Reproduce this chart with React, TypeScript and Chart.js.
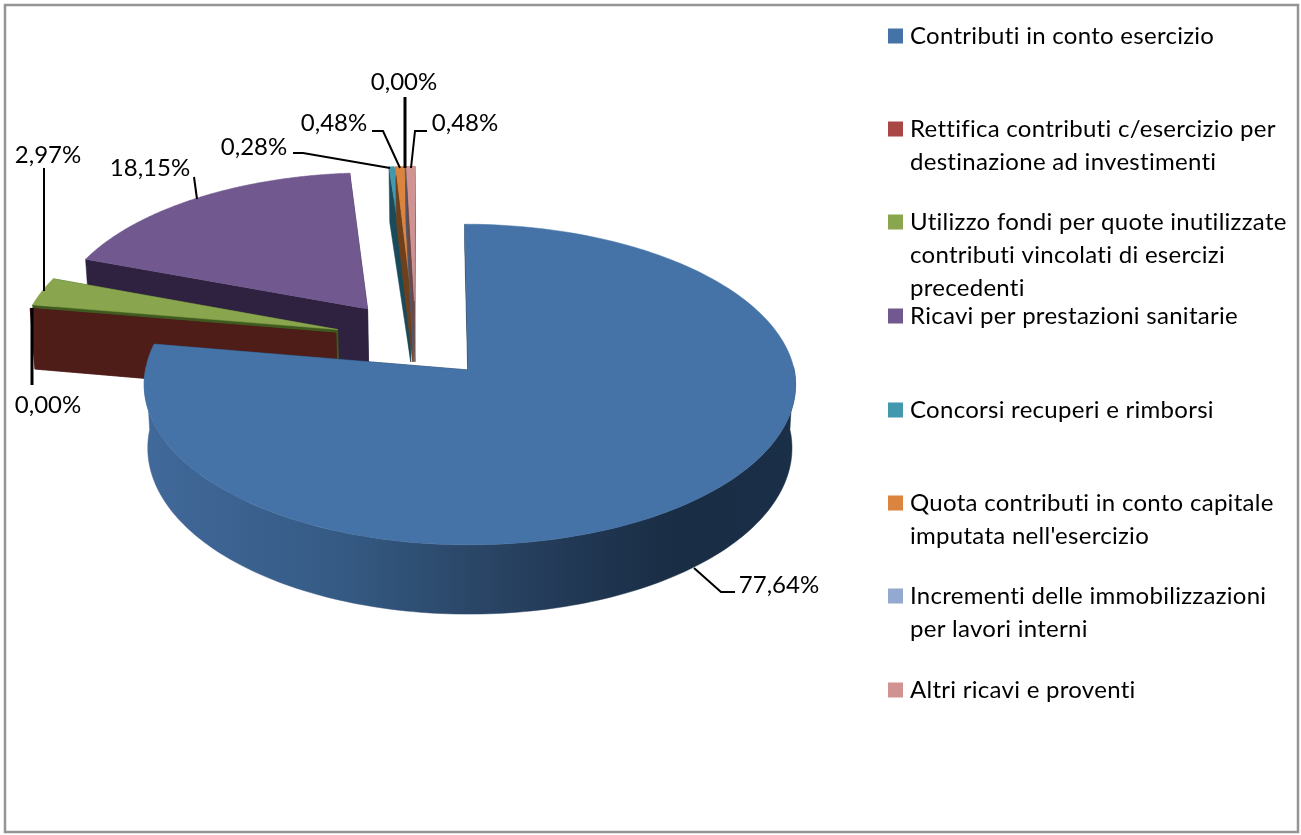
import React, { useEffect, useRef } from "react";
import { Chart, registerables } from "chart.js";

Chart.register(...registerables);

const categories = [
  "Contributi in conto esercizio",
  "Rettifica contributi c/esercizio per destinazione ad investimenti",
  "Utilizzo fondi per quote inutilizzate contributi vincolati di esercizi precedenti",
  "Ricavi per prestazioni sanitarie",
  "Concorsi recuperi e rimborsi",
  "Quota contributi in conto capitale imputata nell'esercizio",
  "Incrementi delle immobilizzazioni per lavori interni",
  "Altri ricavi e proventi",
];
const values = [77.64, 0, 2.97, 18.15, 0.28, 0.48, 0, 0.48];
const colors = ["#4572A7", "#AA4643", "#89A54E", "#71588F", "#4198AF", "#DB843D", "#93A9CF", "#D19392"];
const wallColors = ["#1b3350", "#4e1d18", "#3f5a1e", "#2f2140", "#1a4b5a", "#70401c", "#4d5a75", "#6a4846"];
const drawOrder = [4, 5, 6, 7, 3, 2, 1, 0];

const legendLines = [
  ["Contributi in conto esercizio"],
  ["Rettifica contributi c/esercizio per", "destinazione ad investimenti"],
  ["Utilizzo fondi per quote inutilizzate", "contributi vincolati di esercizi", "precedenti"],
  ["Ricavi per prestazioni sanitarie"],
  ["Concorsi recuperi e rimborsi"],
  ["Quota contributi in conto capitale", "imputata nell'esercizio"],
  ["Incrementi delle immobilizzazioni", "per lavori interni"],
  ["Altri ricavi e proventi"],
];
const legendRowY = [36, 129, 222, 316, 410, 503, 596, 690];
const legendLineStep = 33;

// Label placement: [label centre x, centre y], leader polyline
const labelPlacement: { at: [number, number]; line: [number, number][]; width: number }[] = [
  { at: [779, 585], line: [[694, 568], [721, 592], [735, 592]], width: 2 },
  { at: [48, 405], line: [[32, 308], [32, 385]], width: 3 },
  { at: [48, 155], line: [[44, 168], [44, 291]], width: 2 },
  { at: [150, 168], line: [[194, 177], [197, 199]], width: 2 },
  { at: [254, 147], line: [[293, 153], [303, 153], [390, 168]], width: 2 },
  { at: [334, 123], line: [[372, 131], [383, 131], [400, 168]], width: 2 },
  { at: [404, 82], line: [[405, 97], [405, 168]], width: 3 },
  { at: [465, 123], line: [[411, 168], [415, 131], [427, 131]], width: 2 },
];

const FONT = '24px Lato, "Open Sans", sans-serif';
const EXPLODE = 0.255;
const CORE_X = -0.164;
const CORE_Y = -0.195;
const PIE = { cx: 468, cy: 370, rx: 326, ry: 159, k: 0.0909, depth: 63, leftScale: 0.99, shear: 3.5, taper: 0.011 };
const blueWallStops: [number, string][] = [
  [0, "#41699a"],
  [0.3, "#355b85"],
  [0.5, "#2b4768"],
  [0.7, "#1f3550"],
  [0.82, "#192d44"],
  [1, "#1a2f48"],
];

function project(u: number, v: number, z: number): [number, number] {
  const s = 1 / (1 - PIE.k * v);
  const uu = u < 0 ? u * PIE.leftScale : u;
  const off = PIE.rx * uu * s * (1 - PIE.taper * z) + (v < 0 ? PIE.shear * v : 0);
  return [PIE.cx + off, PIE.cy + (PIE.ry * v + PIE.depth * z) * s];
}

function polygon(ctx: CanvasRenderingContext2D, pts: [number, number][], fill: string | CanvasGradient) {
  ctx.beginPath();
  pts.forEach((p, i) => (i ? ctx.lineTo(p[0], p[1]) : ctx.moveTo(p[0], p[1])));
  ctx.closePath();
  ctx.fillStyle = fill;
  ctx.fill();
  ctx.strokeStyle = fill;
  ctx.lineWidth = 0.5;
  ctx.stroke();
}

const pie3d = {
  id: "pie3d",
  beforeDatasetsDraw(chart: any) {
    const ctx: CanvasRenderingContext2D = chart.ctx;
    ctx.save();
    ctx.fillStyle = "#ffffff";
    ctx.fillRect(0, 0, chart.width, chart.height);
    ctx.strokeStyle = "#949494";
    ctx.lineWidth = 2.5;
    ctx.strokeRect(5, 5, 1293, 827);

    const arcs = chart.getDatasetMeta(0).data;
    for (const i of drawOrder) {
      const el = arcs[i];
      const a0 = el.startAngle;
      const a1 = el.endAngle;
      const mid = (a0 + a1) / 2;
      const ox = CORE_X + EXPLODE * Math.cos(mid);
      const oy = CORE_Y + EXPLODE * Math.sin(mid);
      const on = (a: number, z: number) => project(ox + Math.cos(a), oy + Math.sin(a), z);
      const apex = (z: number) => project(ox, oy, z);

      // radial faces; the face on the 12 o'clock edge of the first slice barely shows
      const z0 = i === 0 ? 0.4 : 1;
      polygon(ctx, [apex(0), on(a0, 0), on(a0, z0), apex(z0)], wallColors[i]);
      polygon(ctx, [apex(0), on(a1, 0), on(a1, 1), apex(1)], wallColors[i]);

      // outer wall, only where it faces the viewer
      const lo = Math.max(a0, -0.02);
      const hi = Math.min(a1, Math.PI + 0.02);
      if (hi > lo) {
        const top: [number, number][] = [];
        const bottom: [number, number][] = [];
        for (let t = 0; t <= 160; t++) {
          const a = lo + ((hi - lo) * t) / 160;
          top.push(on(a, 0));
          bottom.unshift(on(a, 1));
        }
        let fill: string | CanvasGradient = wallColors[i];
        if (i === 0) {
          const g = ctx.createLinearGradient(140, 0, 797, 0);
          blueWallStops.forEach(([o, c]) => g.addColorStop(o, c));
          fill = g;
        }
        polygon(ctx, top.concat(bottom), fill);
      }

      // top surface
      const pts: [number, number][] = [apex(0)];
      for (let t = 0; t <= 200; t++) pts.push(on(a0 + ((a1 - a0) * t) / 200, 0));
      if (a1 > a0) polygon(ctx, pts, colors[i]);
    }
    ctx.restore();
    return false;
  },
  afterDraw(chart: any) {
    const ctx: CanvasRenderingContext2D = chart.ctx;
    ctx.save();
    ctx.font = FONT;
    ctx.textBaseline = "middle";
    (ctx as any).letterSpacing = "0.01px";

    // data labels + leaders
    values.forEach((v, i) => {
      const p = labelPlacement[i];
      ctx.strokeStyle = "#000000";
      ctx.lineWidth = p.width;
      ctx.beginPath();
      p.line.forEach((q, j) => (j ? ctx.lineTo(q[0], q[1]) : ctx.moveTo(q[0], q[1])));
      ctx.stroke();
      ctx.fillStyle = "#000000";
      ctx.textAlign = "center";
      ctx.fillText(v.toFixed(2).replace(".", ",") + "%", p.at[0], p.at[1]);
    });

    // legend
    ctx.textAlign = "left";
    (ctx as any).letterSpacing = "0.28px";
    legendLines.forEach((lines, i) => {
      ctx.fillStyle = colors[i];
      ctx.fillRect(888, legendRowY[i] - 7.5, 15, 15);
      ctx.fillStyle = "#000000";
      lines.forEach((t, j) => ctx.fillText(t, 910, legendRowY[i] + j * legendLineStep));
    });
    ctx.restore();
  },
};

export default function App() {
  const ref = useRef<HTMLCanvasElement>(null);
  useEffect(() => {
    const chart = new Chart(ref.current!, {
      type: "pie",
      data: {
        labels: categories,
        datasets: [{ data: values, backgroundColor: colors, borderWidth: 0 }],
      },
      options: {
        animation: false,
        responsive: false,
        devicePixelRatio: 1,
        plugins: { legend: { display: false }, tooltip: { enabled: false } },
      },
      plugins: [pie3d],
    } as any);
    return () => chart.destroy();
  }, []);
  return (
    <canvas
      ref={ref}
      width={1301}
      height={835}
      style={{ position: "absolute", left: 0, top: 0, width: 1301, height: 835, display: "block" }}
    />
  );
}
